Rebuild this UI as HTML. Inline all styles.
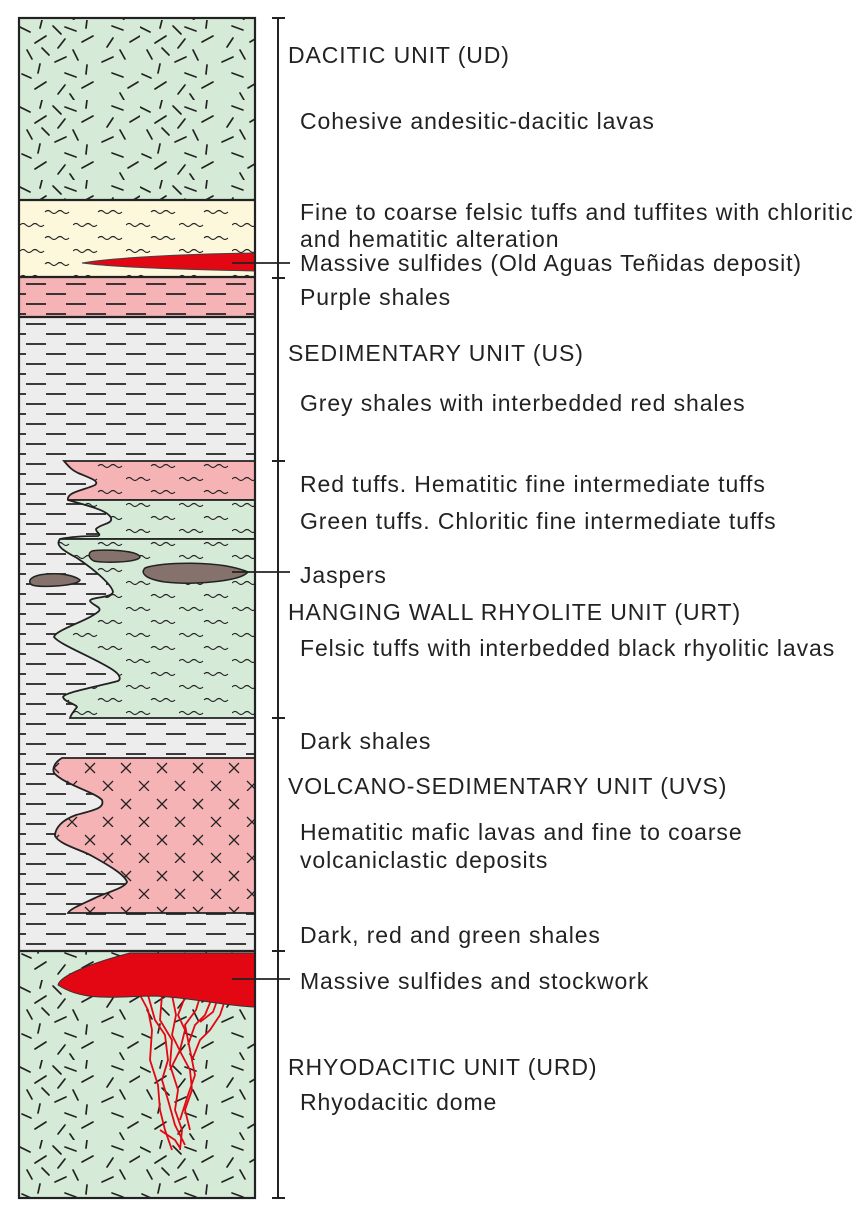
<!DOCTYPE html>
<html><head><meta charset="utf-8"><style>
html,body{margin:0;padding:0;background:#fff;}
svg{display:block;}
text{font-family:"Liberation Sans",sans-serif;font-size:23px;letter-spacing:0.9px;fill:#222;}
</style></head><body>
<svg width="867" height="1220" viewBox="0 0 867 1220" xmlns="http://www.w3.org/2000/svg">
<defs>
<pattern id="dac" width="120" height="80" patternUnits="userSpaceOnUse" x="20" y="20">
<rect width="120" height="80" fill="#d6ead8"/>
<g stroke="#222" stroke-width="1.7" stroke-linecap="round">
<line x1="0" y1="7" x2="10" y2="12"/><line x1="22" y1="0" x2="20" y2="8"/><line x1="33" y1="6" x2="41" y2="14"/><line x1="45" y1="7" x2="56" y2="11"/><line x1="67" y1="0" x2="66" y2="8"/><line x1="92" y1="6" x2="103" y2="10"/>
<line x1="15" y1="23" x2="26" y2="16"/><line x1="38" y1="28" x2="45" y2="19"/><line x1="62" y1="22" x2="73" y2="16"/><line x1="87" y1="27" x2="93" y2="18"/><line x1="110" y1="22" x2="120" y2="16"/>
<line x1="7" y1="30" x2="12" y2="39"/><line x1="22" y1="28" x2="29" y2="35"/><line x1="53" y1="30" x2="58" y2="40"/><line x1="100" y1="30" x2="105" y2="39"/>
<line x1="35" y1="42" x2="46" y2="37"/><line x1="20" y1="44" x2="18" y2="53"/><line x1="67" y1="45" x2="66" y2="54"/><line x1="82" y1="42" x2="93" y2="37"/>
<line x1="2" y1="54" x2="11" y2="58"/><line x1="45" y1="53" x2="56" y2="57"/><line x1="92" y1="53" x2="103" y2="57"/>
<line x1="15" y1="69" x2="26" y2="62"/><line x1="38" y1="74" x2="45" y2="65"/><line x1="62" y1="68" x2="73" y2="62"/><line x1="108" y1="68" x2="118" y2="62"/>
<line x1="50" y1="74" x2="54" y2="80"/><line x1="100" y1="73" x2="104" y2="80"/>
</g></pattern>
<pattern id="shaleG" width="40" height="20" patternUnits="userSpaceOnUse" x="20" y="0">
<rect width="40" height="20" fill="#ededed"/>
<g stroke="#222" stroke-width="1.7"><line x1="6" y1="4" x2="26" y2="4"/><line x1="-14" y1="14" x2="6" y2="14"/><line x1="26" y1="14" x2="46" y2="14"/></g></pattern>
<pattern id="shaleP" width="40" height="20" patternUnits="userSpaceOnUse" x="20" y="0">
<rect width="40" height="20" fill="#f5b3b5"/>
<g stroke="#222" stroke-width="1.7"><line x1="6" y1="4" x2="26" y2="4"/><line x1="-14" y1="14" x2="6" y2="14"/><line x1="26" y1="14" x2="46" y2="14"/></g></pattern>
<pattern id="waveY" width="53" height="26" patternUnits="userSpaceOnUse" x="20" y="206">
<rect width="53" height="26" fill="#fdf7dc"/>
<g fill="none" stroke="#222" stroke-width="1.1"><path d="M25 6 q3-3 6 0 t6 0 t6 0 t6 0"/><path d="M0 19 q3-3 6 0 t6 0 t6 0 t6 0"/></g></pattern>
<pattern id="waveGr" width="53" height="26" patternUnits="userSpaceOnUse" x="20" y="460">
<rect width="53" height="26" fill="#d6ead8"/>
<g fill="none" stroke="#222" stroke-width="1.1"><path d="M25 6 q3-3 6 0 t6 0 t6 0 t6 0"/><path d="M0 19 q3-3 6 0 t6 0 t6 0 t6 0"/></g></pattern>
<pattern id="waveR" width="53" height="26" patternUnits="userSpaceOnUse" x="20" y="460">
<rect width="53" height="26" fill="#f5b3b5"/>
<g fill="none" stroke="#222" stroke-width="1.1"><path d="M25 6 q3-3 6 0 t6 0 t6 0 t6 0"/><path d="M0 19 q3-3 6 0 t6 0 t6 0 t6 0"/></g></pattern>
<pattern id="xs" width="36" height="36" patternUnits="userSpaceOnUse" x="72" y="755">
<rect width="36" height="36" fill="#f5b3b5"/>
<g stroke="#222" stroke-width="1.3"><path d="M13 8 l10 10 M23 8 l-10 10"/><path d="M-5 26 l10 10 M5 26 l-10 10 M31 26 l10 10 M41 26 l-10 10"/></g></pattern>
</defs>

<rect x="19" y="18" width="236" height="182" fill="url(#dac)"/>
<rect x="19" y="200" width="236" height="77" fill="url(#waveY)"/>
<rect x="19" y="277" width="236" height="40" fill="url(#shaleP)"/>
<rect x="19" y="317" width="236" height="634" fill="url(#shaleG)"/>
<rect x="19" y="951" width="236" height="247" fill="url(#dac)"/>

<path d="M255 461 L64 461 C70 468 72 470 78 473 C90 478 100 481 95 485 C85 490 66 492 68 500 L255 500 Z" fill="url(#waveR)" stroke="#222" stroke-width="1.8"/>
<path d="M255 500 L68 500 C85 505 108 510 111 518 C113 524 100 524 96 529 C96 533 102 534 98 536 C85 536 70 537 60 539 L255 539 Z" fill="url(#waveGr)" stroke="#222" stroke-width="1.8"/>
<path d="M255 539 L60 539 C55 545 62 550 77 558 C95 570 112 585 113 592 C112 598 90 597 90 601 C92 605 102 607 99 611 C90 620 55 630 54 637 C60 645 95 658 113 670 C122 676 120 680 118 681 C100 686 65 692 63 697 C64 702 76 704 77 707 C75 710 71 714 70 718 L255 718 Z" fill="url(#waveGr)" stroke="#222" stroke-width="1.8"/>
<g fill="#85726d" stroke="#222" stroke-width="1.5">
<path d="M92 551 C102 549 138 550 140 557 C138 563 100 563 94 561 C88 558 88 553 92 551 Z"/>
<path d="M145 568 C160 562 220 560 248 572 C240 582 190 585 165 582 C145 579 140 573 145 568 Z"/>
<path d="M32 578 C40 572 70 572 80 580 C78 586 40 588 32 585 C29 583 29 580 32 578 Z"/>
</g>
<path d="M255 758 L62 758 C55 762 52 768 54 773 C65 785 95 792 102 800 C105 808 95 810 76 815 C62 820 55 828 55 836 C60 845 82 850 92 856 C110 866 125 875 127 882 C125 888 105 893 95 898 C80 905 70 909 68 913 L255 913 Z" fill="url(#xs)" stroke="#222" stroke-width="1.8"/>

<g fill="none" stroke="#e30613" stroke-width="1.8">
<path d="M140 995 L148 1010 L152 1030 L150 1060 L158 1085 L160 1110 L165 1130 L172 1150"/>
<path d="M148 995 L155 1020 L165 1035 L168 1060 L162 1080 L168 1100 L175 1125 L185 1145"/>
<path d="M162 995 L160 1020 L172 1040 L170 1065 L178 1090 L175 1110 L182 1130 L180 1150"/>
<path d="M172 995 L176 1015 L172 1035 L182 1055 L190 1070 L192 1090 L185 1110 L190 1130"/>
<path d="M185 997 L178 1015 L185 1030 L180 1050 L170 1070"/>
<path d="M200 997 L196 1010 L185 1025 L190 1050 L195 1075 L188 1095 L180 1120"/>
<path d="M212 998 L205 1015 L195 1025 L188 1045"/>
<path d="M225 1000 L220 1015 L210 1030 L200 1040 L192 1060"/>
<path d="M218 998 L213 1012 L200 1022"/>
<path d="M160 1130 L175 1140 L180 1148"/>
</g>
<path d="M58 985 C60 975 95 962 130 953 L255 953 L255 1007 C225 1006 195 998 155 996 C120 996 85 1003 58 985 Z" fill="#e30613" stroke="#333" stroke-width="1"/>
<path d="M82 263 C110 258 180 254 255 253 L255 271 C200 270 120 268 82 263 Z" fill="#e30613" stroke="#444" stroke-width="1"/>

<g stroke="#222" stroke-width="2.2">
<line x1="19" y1="200" x2="255" y2="200"/><line x1="19" y1="277" x2="255" y2="277"/><line x1="19" y1="317" x2="255" y2="317"/><line x1="19" y1="951" x2="255" y2="951"/>
</g>
<rect x="19" y="18" width="236" height="1180" fill="none" stroke="#222" stroke-width="2.2"/>

<g stroke="#222" stroke-width="2">
<line x1="278" y1="18" x2="278" y2="1198"/>
<line x1="272" y1="18" x2="285" y2="18"/><line x1="272" y1="278" x2="285" y2="278"/><line x1="272" y1="461" x2="285" y2="461"/><line x1="272" y1="718" x2="285" y2="718"/><line x1="272" y1="951" x2="285" y2="951"/><line x1="272" y1="1198" x2="285" y2="1198"/>
</g>
<g stroke="#222" stroke-width="1.8">
<line x1="232" y1="263" x2="290" y2="263"/><line x1="232" y1="572" x2="290" y2="572"/><line x1="232" y1="979" x2="290" y2="979"/>
</g>

<text x="288" y="63">DACITIC UNIT (UD)</text>
<text x="300" y="129">Cohesive andesitic-dacitic lavas</text>
<text x="300" y="220">Fine to coarse felsic tuffs and tuffites with chloritic</text>
<text x="300" y="247">and hematitic alteration</text>
<text x="300" y="271">Massive sulfides (Old Aguas Teñidas deposit)</text>
<text x="300" y="305">Purple shales</text>
<text x="288" y="361">SEDIMENTARY UNIT (US)</text>
<text x="300" y="411">Grey shales with interbedded red shales</text>
<text x="300" y="492">Red tuffs. Hematitic fine intermediate tuffs</text>
<text x="300" y="529">Green tuffs. Chloritic fine intermediate tuffs</text>
<text x="300" y="583">Jaspers</text>
<text x="288" y="620">HANGING WALL RHYOLITE UNIT (URT)</text>
<text x="300" y="656">Felsic tuffs with interbedded black rhyolitic lavas</text>
<text x="300" y="749">Dark shales</text>
<text x="288" y="794">VOLCANO-SEDIMENTARY UNIT (UVS)</text>
<text x="300" y="840">Hematitic mafic lavas and fine to coarse</text>
<text x="300" y="868">volcaniclastic deposits</text>
<text x="300" y="943">Dark, red and green shales</text>
<text x="300" y="989">Massive sulfides and stockwork</text>
<text x="288" y="1075">RHYODACITIC UNIT (URD)</text>
<text x="300" y="1110">Rhyodacitic dome</text>
</svg>
</body></html>
